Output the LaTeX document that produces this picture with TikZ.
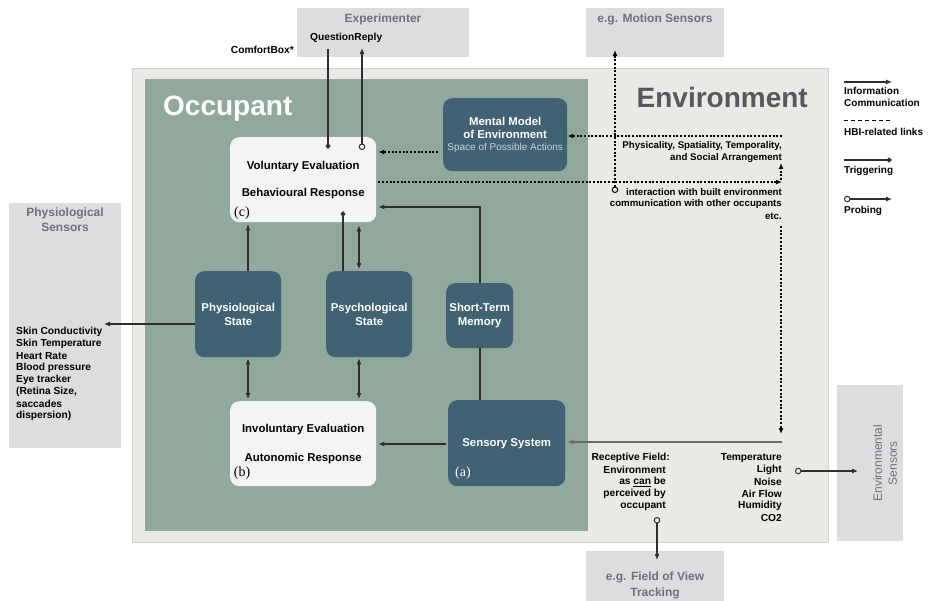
\documentclass[tikz,border=0pt]{standalone}
\usepackage{fontspec}
\setmainfont{Liberation Sans}
\newfontfamily\serifx{Liberation Serif}
\usetikzlibrary{arrows.meta}
\definecolor{envfill}{HTML}{EAE9E3}
\definecolor{envborder}{HTML}{D2D2CE}
\definecolor{occfill}{HTML}{91A99C}
\definecolor{darkbox}{HTML}{416272}
\definecolor{whitebox}{HTML}{F3F4F3}
\definecolor{greybox}{HTML}{DCDDDF}
\definecolor{greytext}{HTML}{6E7175}
\definecolor{envtext}{HTML}{55585C}
\definecolor{linec}{HTML}{2E2E2E}
\definecolor{sensline}{HTML}{6A6A6A}
\definecolor{subtext}{HTML}{C9D3D8}
\tikzset{
  dstate/.style={fill=darkbox, rounded corners=9pt, text=white, inner sep=0, align=center,
    font=\bfseries\fontsize{11.4}{14}\selectfont},
  wstate/.style={fill=whitebox, rounded corners=9pt, text=black, inner sep=0, align=center,
    font=\bfseries\fontsize{11.4}{14}\selectfont},
  gbox/.style={fill=greybox, inner sep=0},
  gtitle/.style={text=greytext, inner sep=0, align=center, font=\bfseries\fontsize{12}{15}\selectfont},
  lbl/.style={inner sep=0, font=\bfseries\fontsize{10.2}{12}\selectfont},
  lbls/.style={inner sep=0, font=\bfseries\fontsize{9.7}{12}\selectfont},
  leg/.style={inner sep=0, anchor=west, font=\bfseries\fontsize{10}{12}\selectfont},
  tagc/.style={inner sep=0, font=\serifx\fontsize{14}{16}\selectfont},
  lw/.style={line width=1.1pt},
  tipa/.tip={Latex[length=6pt,width=5pt]},
  tipc/.tip={Circle[open,length=6.5pt,width=6.5pt,line width=1pt]},
  tipd/.tip={Diamond[length=6pt,width=5pt]},
  info/.style={draw=linec, lw, -tipa},
  both/.style={draw=linec, lw, tipa-tipa},
  plain/.style={draw=linec, lw},
  trig/.style={draw=linec, lw, -tipd},
  probe/.style={draw=linec, lw, tipc-tipa},
  hbi/.style={draw=black, line width=1.2pt, dash pattern=on 2pt off 1.7pt},
}
\begin{document}
\begin{tikzpicture}[x=1pt,y=-1pt]
\useasboundingbox[fill=white] (0,0) rectangle (933,600);

% ---- big regions
\node[fill=envfill, draw=envborder, line width=1pt, inner sep=0, anchor=north west,
  minimum width=696pt, minimum height=474pt] (env) at (132,68) {};
\node[fill=occfill, inner sep=0, anchor=north west,
  minimum width=443pt, minimum height=452pt] (occ) at (145,79) {};
\node[anchor=west, inner sep=0, text=white, font=\bfseries\fontsize{28}{30}\selectfont] (occt) at (163,109) {Occupant};
\node[anchor=east, inner sep=0, text=envtext, font=\bfseries\fontsize{28}{30}\selectfont] (envt) at (808,97) {Environment};

% ---- grey outside boxes
\node[gbox, anchor=north west, minimum width=172pt, minimum height=49pt] (exp) at (297,8) {};
\node[gtitle] (expt) at (383,19) {Experimenter};
\node[lbl, anchor=west] (qr) at (310,38) {QuestionReply};
\node[lbl, anchor=east] (cb) at (294,50) {ComfortBox*};

\node[gbox, anchor=north west, minimum width=138pt, minimum height=49pt] (mot) at (586,8) {};
\node[gtitle] (mott) at (655,19) {e.g. Motion Sensors};

\node[gbox, anchor=north west, minimum width=112pt, minimum height=245pt] (phs) at (9,203) {};
\node[gtitle, anchor=north] (phst) at (65,208) {Physiological\\Sensors};

\node[gbox, anchor=north west, minimum width=138pt, minimum height=50pt] (fov) at (586,551) {};
\node[gtitle, anchor=north, font=\bfseries\fontsize{12}{16}\selectfont] (fovt) at (655,572) {e.g. Field of View\\Tracking};

\node[gbox, anchor=north west, minimum width=66pt, minimum height=156pt] (ens) at (837,385) {};
\node[gtitle, rotate=90, font=\fontsize{12}{15}\selectfont] (enst) at (885,463) {Environmental\\Sensors};

% ---- occupant components
\node[dstate, anchor=north west, minimum width=124pt, minimum height=73pt] (mm) at (443,98)
  {Mental Model\\[-1pt]of Environment\\[-1.5pt]{\mdseries\color{subtext}\fontsize{10}{12}\selectfont Space of Possible Actions}};
\node[wstate, anchor=north west, minimum width=146pt, minimum height=85pt] (vol) at (230,137)
  {Voluntary Evaluation\\[13pt]Behavioural Response};
\node[tagc] (tc) at (242,213) {(c)};
\node[dstate, anchor=north west, minimum width=86pt, minimum height=86pt] (phy) at (195,271)
  {Physiological\\State};
\node[dstate, anchor=north west, minimum width=86pt, minimum height=86pt] (psy) at (326,271)
  {Psychological\\State};
\node[dstate, anchor=north west, minimum width=67pt, minimum height=65pt] (stm) at (446,283)
  {Short-Term\\Memory};
\node[wstate, anchor=north west, minimum width=146pt, minimum height=85pt] (inv) at (230,401)
  {Involuntary Evaluation\\[15pt]Autonomic Response};
\node[tagc] (tb) at (242,473) {(b)};
\node[dstate, anchor=north west, minimum width=117pt, minimum height=86pt] (sen) at (448,400)
  {Sensory System};
\node[tagc, text=white] (ta) at (463,473) {(a)};

% ---- texts in environment
\node[lbls, anchor=east] (phx1) at (782,146) {Physicality, Spatiality, Temporality,};
\node[lbls, anchor=east] (phx2) at (782,158) {and Social Arrangement};
\node[lbls, anchor=east] (int1) at (782,192) {interaction with built environment};
\node[lbls, anchor=east] (int2) at (782,204) {communication with other occupants};
\node[lbls, anchor=east] (int3) at (782,216) {etc.};

\node[lbl, anchor=east] (rf1) at (670,458) {Receptive Field:};
\node[lbl, anchor=east] (rf2) at (666,470) {Environment};
\node[lbl, anchor=east] (rf3) at (666,482) {as \underline{can} be};
\node[lbl, anchor=east] (rf4) at (666,494) {perceived by};
\node[lbl, anchor=east] (rf5) at (666,506) {occupant};

\foreach \t/\yy [count=\i] in {Temperature/458, Light/470, Noise/482, Air Flow/494, Humidity/506, CO2/518}
  \node[lbl, anchor=east] (ev\i) at (782,\yy) {\t};

\foreach \t/\yy [count=\i] in {Skin Conductivity/332, Skin Temperature/344, Heart Rate/356, Blood pressure/368,
  Eye tracker/380, {(Retina Size,}/392, saccades/404, dispersion)/416}
  \node[lbl, anchor=west] (ps\i) at (16,\yy) {\t};

% ---- legend
\coordinate (l1a) at (844,82); \coordinate (l1b) at (892,82);
\draw[info] (l1a) -- (l1b);
\node[leg] (lg1) at (844,91) {Information};
\node[leg] (lg2) at (844,103) {Communication};
\coordinate (l2a) at (844,120); \coordinate (l2b) at (892,120);
\draw[draw=black, line width=1pt, dash pattern=on 4pt off 3pt] (l2a) -- (l2b);
\node[leg] (lg3) at (844,132) {HBI-related links};
\coordinate (l3a) at (844,160); \coordinate (l3b) at (892,160);
\draw[trig] (l3a) -- (l3b);
\node[leg] (lg4) at (844,171) {Triggering};
\coordinate (l4a) at (844,199); \coordinate (l4b) at (892,199);
\draw[probe] (l4a) -- (l4b);
\node[leg] (lg5) at (844,211) {Probing};

% ---- connectors
% experimenter
\coordinate (q0) at (328,49); \coordinate (q1) at (328,149);
\draw[trig] (q0) -- (q1);
\coordinate (r0) at (362,150); \coordinate (r1) at (362,48);
\draw[probe] (r0) -- (r1);
% motion sensors
\coordinate (m0) at (615,193); \coordinate (m1) at (615,50);
\draw[hbi, tipc-tipa] (m0) -- (m1);
% environment -> mental model
\coordinate (e0) at (782,136);
\draw[hbi, -tipa] (e0) -- (e0 -| mm.east);
% mental model -> voluntary
\coordinate (mv0) at (438,152);
\draw[hbi, -tipa] (mv0) -- ([xshift=2pt]mv0 -| vol.east);
% voluntary -> environment
\coordinate (ve1) at (782,182);
\draw[hbi, -tipa] ([xshift=2pt]vol.east |- ve1) -- (ve1);
\coordinate (vu0) at (781,180); \coordinate (vu1) at (781,163);
\draw[hbi, -tipa] (vu0) -- (vu1);
% environment down
\coordinate (ed0) at (781,226); \coordinate (ed1) at (781,434);
\draw[hbi, -tipa] (ed0) -- (ed1);
% environment -> sensory
\coordinate (es0) at (782,442);
\draw[draw=sensline, line width=1.6pt, -tipa] (es0) -- ([xshift=2pt]es0 -| sen.east);
% sensory -> involuntary
\draw[info] ([xshift=-2pt]sen.west |- 0,444) -- ([xshift=2pt]inv.east |- 0,444);
% sensory -- stm
\draw[plain] (sen.north -| 480,0) -- (stm.south -| 480,0);
% stm -> voluntary
\coordinate (sv) at (480,207);
\draw[info] (stm.north -| sv) -- (sv) -- ([xshift=2pt]vol.east |- sv);
% physiological -> voluntary
\draw[info] (phy.north -| 248,0) -- ([yshift=-2pt]vol.south -| 248,0);
% psychological triggers voluntary
\coordinate (pt1) at (343,211);
\draw[trig] (psy.north -| pt1) -- (pt1);
\draw[both] ([yshift=-3pt]vol.south -| 359,0) -- ([yshift=2pt]psy.north -| 359,0);
% states <-> involuntary
\draw[both] ([yshift=-1pt]phy.south -| 248,0) -- ([yshift=2pt]inv.north -| 248,0);
\draw[both] ([yshift=-1pt]psy.south -| 359,0) -- ([yshift=2pt]inv.north -| 359,0);
% physiological -> sensors
\coordinate (pse) at (104,324);
\draw[info] (phy.west |- pse) -- (pse);
% receptive field probe
\coordinate (rp0) at (657,517); \coordinate (rp1) at (657,560);
\draw[probe] (rp0) -- (rp1);
% environment probe
\coordinate (ep0) at (795,471); \coordinate (ep1) at (858,471);
\draw[probe] (ep0) -- (ep1);
\end{tikzpicture}
\end{document}
